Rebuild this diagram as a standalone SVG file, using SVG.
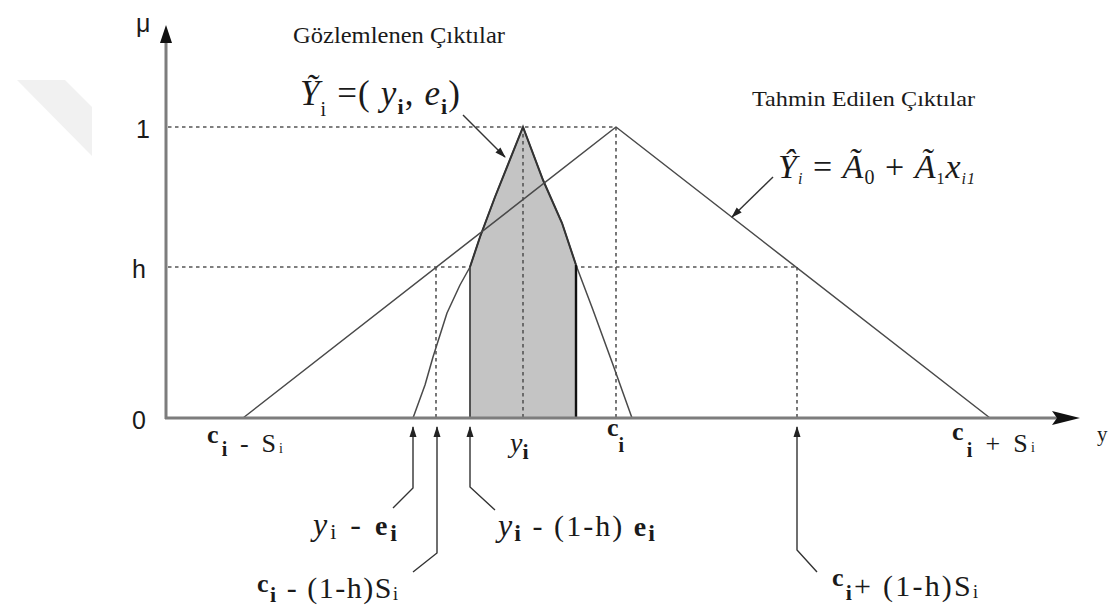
<svg xmlns="http://www.w3.org/2000/svg" width="1108" height="605" viewBox="0 0 1108 605">
<defs>
<style>
.ax{stroke:#7d7d7d;stroke-width:3;fill:none}
.ln{stroke:#4a4a4a;stroke-width:1.5;fill:none;stroke-linejoin:round}
.dot{stroke:#555;stroke-width:1.6;stroke-dasharray:3.5 3.5;fill:none}
.ptr{stroke:#333;stroke-width:1.4;fill:none}
.sans{font-family:"Liberation Sans",Arial,sans-serif;fill:#1a1a1a}
.serif{font-family:"Liberation Serif","Times New Roman",serif;fill:#1a1a1a}
.it{font-style:italic}
.b{font-weight:bold}
</style>
<marker id="ah" markerWidth="11" markerHeight="8" refX="10" refY="4" orient="auto" markerUnits="userSpaceOnUse">
<path d="M0,0.5 L11,4 L0,7.5 z" fill="#222"/>
</marker>
</defs>
<rect width="1108" height="605" fill="#fff"/>
<polygon id="watermark" points="17,80 65,80 92,107 92,156" fill="#f1f1f1"/>

<g id="guides">
<line class="dot" x1="168" y1="127" x2="616" y2="127"/>
<line class="dot" x1="168" y1="267" x2="797" y2="267"/>
<line class="dot" x1="436" y1="267" x2="436" y2="417"/>
<line class="dot" x1="797" y1="267" x2="797" y2="417"/>
<line class="dot" x1="616" y1="127" x2="616" y2="417"/>
</g>

<g id="observed">
<polygon points="470,418 470,267 480,237 495,197 523,127 543,180 562,223 576,265 576,418" fill="#c4c4c4"/>
<line class="dot" x1="523" y1="127" x2="523" y2="417"/>
<polyline class="ln" points="413,418 425,385 433,357 447,313 460,285 470,267 480,237 495,197 523,127"/>
<polyline class="ln" points="523,127 543,180 562,223 576,265 593,310 612,362 632,418"/>
<polyline points="470,267 480,237 495,197 523,127 543,180 562,223 576,265" fill="none" stroke="#333" stroke-width="2"/>
<line x1="470" y1="267" x2="470" y2="418" stroke="#444" stroke-width="1.8"/>
<line x1="576" y1="265" x2="576" y2="418" stroke="#111" stroke-width="2.4"/>
</g>

<g id="predicted">
<polyline class="ln" points="243,418 616,127 990,418"/>
</g>

<g id="axes">
<line class="ax" x1="166" y1="419" x2="166" y2="38"/>
<polygon points="160,43 166,25 172,43" fill="#111"/>
<line class="ax" x1="165" y1="418" x2="1058" y2="418"/>
<polygon points="1052,411 1080,418 1052,425 1057,418" fill="#111"/>
<text class="sans" x="136" y="32" font-size="25">μ</text>
<text class="sans" x="136" y="138" font-size="25">1</text>
<text class="sans" x="132" y="278" font-size="25">h</text>
<text class="sans" x="132" y="429" font-size="25">0</text>
<text class="serif" x="1097" y="441" font-size="21">y</text>
</g>

<g id="connectors">
<line class="ptr" x1="463" y1="115" x2="505" y2="157" marker-end="url(#ah)"/>
<line class="ptr" x1="773" y1="177" x2="732" y2="217" marker-end="url(#ah)"/>
<polyline class="ptr" points="393,508 413,488 413,427" marker-end="url(#ah)"/>
<polyline class="ptr" points="413,572 437,553 437,427" marker-end="url(#ah)"/>
<polyline class="ptr" points="495,510 470,487 470,427" marker-end="url(#ah)"/>
<polyline class="ptr" points="817,572 797,550 797,427" marker-end="url(#ah)"/>
</g>

<g id="titles">
<text class="serif" x="293" y="43" font-size="23" textLength="212" lengthAdjust="spacingAndGlyphs">Gözlemlenen Çıktılar</text>
<text class="serif" x="752" y="106" font-size="22" textLength="223" lengthAdjust="spacingAndGlyphs">Tahmin Edilen Çıktılar</text>
</g>

<g id="formula-observed">
<text class="serif" x="300" y="105" font-size="35" textLength="160" lengthAdjust="spacing"><tspan class="it">Ỹ</tspan><tspan font-size="20" dy="11">i</tspan><tspan dy="-11"> =( </tspan><tspan class="it">y</tspan><tspan class="b" font-size="22" dy="9">i</tspan><tspan dy="-9">, </tspan><tspan class="it">e</tspan><tspan class="b" font-size="22" dy="9">i</tspan><tspan dy="-9">)</tspan></text>
</g>

<g id="formula-predicted">
<text class="serif" x="778" y="178" font-size="34" textLength="197" lengthAdjust="spacing"><tspan class="it">Ŷ</tspan><tspan class="it" font-size="16" dy="6">i</tspan><tspan dy="-6"> = </tspan><tspan class="it">Ã</tspan><tspan font-size="20" dy="6">0</tspan><tspan dy="-6"> + </tspan><tspan class="it">Ã</tspan><tspan font-size="16" dy="6">1</tspan><tspan class="it" dy="-6">x</tspan><tspan class="it" font-size="16" dy="6">i1</tspan></text>
</g>

<g id="axis-labels">
<text class="serif" x="207" y="452" font-size="26" textLength="76" lengthAdjust="spacing"><tspan class="b" dy="-9">c</tspan><tspan class="b" font-size="20" dy="13">i</tspan><tspan dy="-4"> - S</tspan><tspan font-size="14" dy="1">i</tspan></text>
<text class="serif" x="510" y="452" font-size="28"><tspan class="it">y</tspan><tspan class="b" font-size="22" dy="7">i</tspan></text>
<text class="serif" x="607" y="436" font-size="26"><tspan class="b">c</tspan><tspan class="b" font-size="20" dy="16">i</tspan></text>
<text class="serif" x="952" y="452" font-size="26" textLength="83" lengthAdjust="spacing"><tspan class="b" dy="-12">c</tspan><tspan class="b" font-size="20" dy="17">i</tspan><tspan dy="-5"> + S</tspan><tspan font-size="14">i</tspan></text>
</g>

<g id="point-labels">
<text class="serif" x="313" y="535" font-size="32" textLength="84" lengthAdjust="spacing"><tspan class="it">y</tspan><tspan font-size="22" dy="4">i</tspan><tspan dy="-4"> - </tspan><tspan class="b" font-size="28">e</tspan><tspan class="b" font-size="24" dy="6">i</tspan></text>
<text class="serif" x="498" y="536" font-size="30" textLength="157" lengthAdjust="spacing"><tspan class="it" font-size="32">y</tspan><tspan class="b" font-size="24" dy="5">i</tspan><tspan dy="-5"> - (1-h) </tspan><tspan class="b" font-size="28">e</tspan><tspan class="b" font-size="24" dy="5">i</tspan></text>
<text class="serif" x="257" y="598" font-size="30" textLength="141" lengthAdjust="spacing"><tspan class="b" font-size="26" dy="-6">c</tspan><tspan class="b" font-size="22" dy="10">i</tspan><tspan dy="-4"> - (1-h)S</tspan><tspan font-size="18" dy="2">i</tspan></text>
<text class="serif" x="832" y="596" font-size="30" textLength="146" lengthAdjust="spacing"><tspan class="b" font-size="26" dy="-10">c</tspan><tspan class="b" font-size="22" dy="14">i</tspan><tspan dy="-4">+ (1-h)S</tspan><tspan font-size="18" dy="2">i</tspan></text>
</g>
</svg>
